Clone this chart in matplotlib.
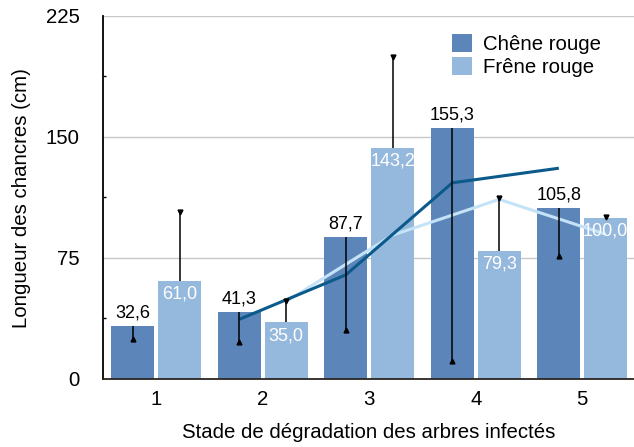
import matplotlib
matplotlib.use("Agg")
import matplotlib.pyplot as plt
import numpy as np

# ---- data ----
stades = [1, 2, 3, 4, 5]
chene = [32.6, 41.3, 87.7, 155.3, 105.8]
frene = [61.0, 35.0, 143.2, 79.3, 100.0]
chene_err_down = [7.7, 18.5, 57.2, 143.9, 29.7]
frene_err_up = [42.5, 13.5, 56.4, 32.5, 0.5]
series_names = ["Chêne rouge", "Frêne rouge"]
yticks = [0, 75, 150, 225]
xlabel = "Stade de dégradation des arbres infectés"
ylabel = "Longueur des chancres (cm)"

# ---- style ----
c_dark = "#5c86b9"
c_light = "#95b9dc"
c_line_dark = "#0b5a8b"
c_line_light = "#c4e2f8"
plt.rcParams['font.family'] = ['Liberation Sans', 'DejaVu Sans']

W, H = 634, 447
fig = plt.figure(figsize=(W / 100, H / 100), dpi=100)
ax = fig.add_axes([103 / W, 68 / H, 532.5 / W, 363.3 / H])

x = np.array(stades, dtype=float)
off = 0.22
bw = 0.405

ax.bar(x - off, chene, bw, color=c_dark, zorder=2, label=series_names[0])
ax.bar(x + off, frene, bw, color=c_light, zorder=2, label=series_names[1])

# moving average (2 periods) trend lines
ch = np.array(chene)
fr = np.array(frene)
ma_ch = (ch[1:] + ch[:-1]) / 2
ma_fr = (fr[1:] + fr[:-1]) / 2
ax.plot(x[1:] + off, ma_fr, color=c_line_light, lw=2.2, zorder=3, solid_capstyle='butt')
ax.plot(x[1:] - off, ma_ch, color=c_line_dark, lw=2.2, zorder=4, solid_capstyle='butt')

# error bars (one sided)
ce = np.array(chene_err_down)
fe = np.array(frene_err_up)
ax.vlines(x - off, ch - ce, ch, color='black', lw=1.1, zorder=5)
ax.vlines(x + off, fr, fr + fe, color='black', lw=1.1, zorder=5)
ax.plot(x - off, ch - ce, linestyle='none', marker='^', ms=3.5, color='black', zorder=5)
ax.plot(x + off, fr + fe, linestyle='none', marker='v', ms=3.5, color='black', zorder=5)

# value labels
lab_fs = 13
for xi, v in zip(x - off, chene):
    ax.annotate(f"{v:.1f}".replace('.', ','), (xi, v), xytext=(0, 9.5),
                textcoords='offset points', ha='center', va='center',
                fontsize=lab_fs, color='black', zorder=6)
for xi, v in zip(x + off, frene):
    ax.annotate(f"{v:.1f}".replace('.', ','), (xi, v), xytext=(0, -9.5),
                textcoords='offset points', ha='center', va='center',
                fontsize=lab_fs, color='white', zorder=6)

ax.set_xlim(0.5, 5.5)
ax.set_ylim(0, 225)
ax.set_yticks(yticks)
ax.set_yticks([37.5, 112.5, 187.5], minor=True)
ax.set_xticks(stades)
ax.tick_params(axis='y', which='major', length=0, pad=17, labelsize=14.7)
ax.tick_params(axis='y', which='minor', direction='in', length=2.5, width=1, color='black')
ax.tick_params(axis='x', length=0, pad=8, labelsize=14.7)

ax.grid(axis='y', color='#c8c8c8', lw=1, zorder=0)
ax.set_axisbelow(True)
for s in ['top', 'right']:
    ax.spines[s].set_visible(False)
ax.spines['left'].set_linewidth(1.3)
ax.spines['left'].set_color('black')
ax.spines['bottom'].set_linewidth(1.3)
ax.spines['bottom'].set_color('#2a2520')
ax.spines['left'].set_zorder(7)
ax.spines['bottom'].set_zorder(7)

ax.set_xlabel(xlabel, fontsize=14.7, va='center')
ax.set_ylabel(ylabel, fontsize=14.7, va='center')
ax.yaxis.set_label_coords(22 / W, (447 - 198) / H, transform=fig.transFigure)
ax.xaxis.set_label_coords(369 / W, (447 - 433) / H, transform=fig.transFigure)

leg = ax.legend(loc='upper left', bbox_to_anchor=(451.7 / W, (447 - 33.5) / H),
                bbox_transform=fig.transFigure, frameon=False, fontsize=14.7,
                handlelength=0.98, handleheight=0.98, handletextpad=0.55,
                labelspacing=0.15, borderpad=0, borderaxespad=0)

fig.savefig("out.png", dpi=100)
